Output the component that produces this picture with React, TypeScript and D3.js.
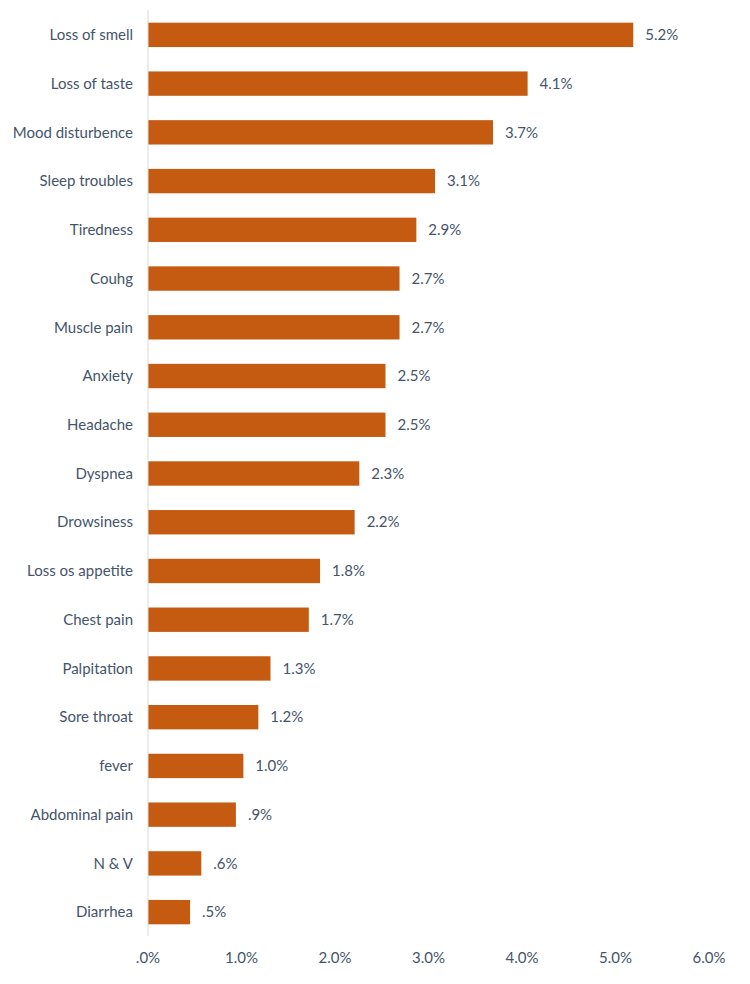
import React from "react";
import * as d3 from "d3";

const categories = [
  "Loss of smell",
  "Loss of taste",
  "Mood disturbence",
  "Sleep troubles",
  "Tiredness",
  "Couhg",
  "Muscle pain",
  "Anxiety",
  "Headache",
  "Dyspnea",
  "Drowsiness",
  "Loss os appetite",
  "Chest pain",
  "Palpitation",
  "Sore throat",
  "fever",
  "Abdominal pain",
  "N & V",
  "Diarrhea",
];

const values = [
  5.19, 4.06, 3.69, 3.07, 2.87, 2.69, 2.69, 2.54, 2.54, 2.26, 2.21, 1.84, 1.72,
  1.31, 1.18, 1.02, 0.94, 0.57, 0.45,
];

const xTicks = [0, 1, 2, 3, 4, 5, 6];

const W = 750;
const H = 984;

function pct(v: number): string {
  const s = v.toFixed(1);
  return (s.startsWith("0") ? s.slice(1) : s) + "%";
}

export default function App() {
  const x = d3.scaleLinear().domain([0, 6]).range([148, 709]);
  const y = d3
    .scaleBand<string>()
    .domain(categories)
    .range([10.5, 936.5])
    .paddingInner(0.5)
    .paddingOuter(0.25);

  const textColor = "#44546A";
  const font = "Lato, 'Open Sans', sans-serif";
  const fs = 15;

  return (
    <svg
      width={W}
      height={H}
      style={{ position: "absolute", left: 0, top: 0, background: "#fff" }}
      fontFamily={font}
    >
      <rect x={0} y={0} width={W} height={H} fill="#ffffff" />
      {categories.map((c, i) => {
        const yy = y(c)!;
        const bw = y.bandwidth();
        return (
          <g key={c}>
            <rect
              x={x(0)}
              y={yy}
              width={x(values[i]) - x(0)}
              height={bw}
              fill="#C55A11"
            />
            <text
              x={x(values[i]) + 12}
              y={yy + bw / 2}
              dy="0.35em"
              fontSize={fs}
              fill={textColor}
            >
              {pct(values[i])}
            </text>
            <text
              x={133}
              y={yy + bw / 2}
              dy="0.35em"
              textAnchor="end"
              fontSize={fs}
              fill={textColor}
            >
              {c}
            </text>
          </g>
        );
      })}
      <line
        x1={x(0)}
        x2={x(0)}
        y1={10}
        y2={936}
        stroke="#D9D9D9"
        strokeWidth={1}
      />
      {xTicks.map((t) => (
        <text
          key={t}
          x={x(t)}
          y={958}
          dy="0.35em"
          textAnchor="middle"
          fontSize={fs}
          fill={textColor}
        >
          {pct(t)}
        </text>
      ))}
    </svg>
  );
}
